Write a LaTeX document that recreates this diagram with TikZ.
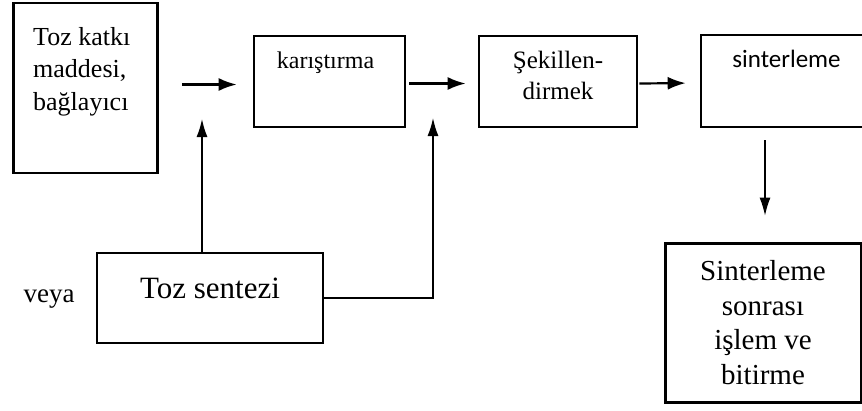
\documentclass[tikz,border=0pt]{standalone}
\usepackage{fontspec}
\setmainfont{Liberation Serif}
\newfontfamily\calib{Carlito}
\usepackage{tikz}
\usetikzlibrary{arrows.meta,calc}

\tikzset{
    box/.style = {draw, line width=2.6pt, inner sep=0pt},
    txt/.style = {inner sep=0pt, align=center},
    arr/.style = {line width=2.2pt, -{Latex[length=18pt,width=13pt]}},
    thinarr/.style = {line width=1.5pt, -{Latex[length=18pt,width=11pt]}}
}

\begin{document}
\begin{tikzpicture}[x=1pt, y=-1pt]
    \useasboundingbox (0,0) rectangle (862,410);
    \clip (0,0) rectangle (862,410);
    % boxes
    \node[box, minimum width=144pt, minimum height=170pt] (katki) at (85.5,88) {};
    \node[box, minimum width=151pt, minimum height=91pt] (karis) at (329.5,81.5) {};
    \node[box, minimum width=158pt, minimum height=91pt] (sekil) at (558,81.5) {};
    \node[box, minimum width=179pt, minimum height=92pt] (sinter) at (790.5,81) {};
    \node[box, minimum width=226pt, minimum height=90pt] (sentez) at (210,298) {};
    \node[box, line width=3pt, minimum width=196pt, minimum height=159pt] (sonra) at (763,322.5) {};
    % texts
    \node[txt, align=left, anchor=north west, font=\fontsize{26}{32.5}\selectfont] (katkiT) at (33,27) {Toz katkı\\maddesi,\\bağlayıcı};
    \node[txt, anchor=base, font=\fontsize{24}{29}\selectfont] (karisT) at (325.5,68) {karıştırma};
    \node[txt, anchor=north, font=\fontsize{25}{31}\selectfont] (sekilT) at (558,51) {Şekillen-\\dirmek};
    \node[txt, anchor=base, font=\calib\fontsize{25}{30}\selectfont] (sinterT) at (786.5,67) {sinterleme};
    \node[txt, anchor=base, font=\fontsize{31}{37}\selectfont] (sentezT) at (210,298) {Toz sentezi};
    \node[txt, anchor=base, font=\fontsize{27}{32}\selectfont] (veya) at (49,302) {veya};
    \node[txt, anchor=north, font=\fontsize{29}{34.7}\selectfont] (sonraT) at (763,260) {Sinterleme\\sonrası\\işlem ve\\bitirme};
    % connectors
    \coordinate (mix1) at (202,119);
    \coordinate (mix2) at (433,118);
    \coordinate (down) at (765,140);
    \draw[arr, shorten <=23pt, shorten >=16pt] ([yshift=-3pt]katki.east |- karis.west) -- ([yshift=-3pt]karis.west);
    \draw[arr, shorten <=3pt, shorten >=12pt] ([yshift=-2pt]karis.east) -- ([yshift=-2pt]sekil.west);
    \draw[arr, shorten <=1pt, shorten >=14pt] ([yshift=-2pt]sekil.east) -- ([yshift=-2pt]sinter.west);
    \draw[thinarr] (sentez.north -| mix1) -- (mix1);
    \draw[thinarr] (sentez.east) -| (mix2);
    \draw[thinarr, line width=1.1pt, shorten >=26pt] (down) -- (down |- sonra.north);
\end{tikzpicture}
\end{document}
